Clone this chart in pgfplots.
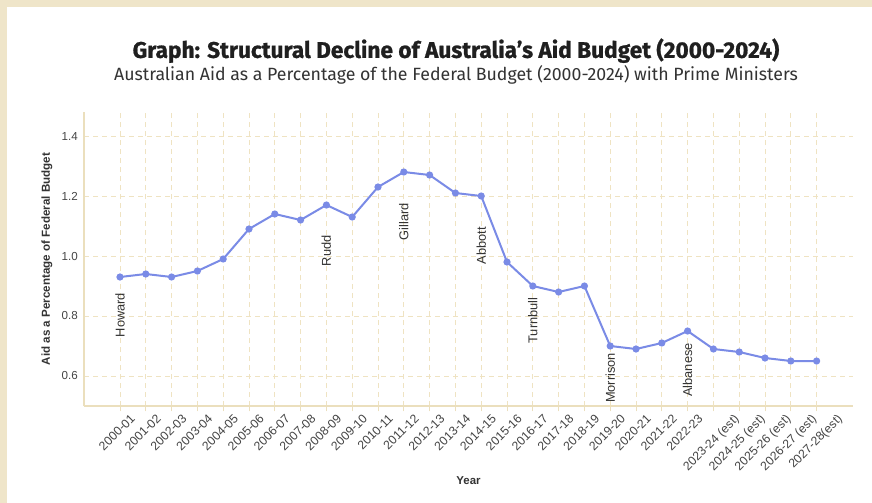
\documentclass[border=0pt]{standalone}
\usepackage{fontspec}
\setmainfont{Liberation Sans}
\newfontfamily\titlefont[BoldFeatures={FakeBold=0.9}]{Fira Sans}
\usepackage{pgfplots}
\pgfplotsset{compat=1.18}
\definecolor{bgbeige}{HTML}{EFE5C9}
\definecolor{gridc}{HTML}{EFE3C2}
\definecolor{axisc}{HTML}{EBDFBD}
\definecolor{linec}{HTML}{7A8BE6}
\definecolor{txt}{HTML}{333333}
\definecolor{ticktxt}{HTML}{444444}
\begin{document}
\begin{tikzpicture}
\fill[bgbeige] (0,0) rectangle (654pt,-377.25pt);
\fill[white] (5.25pt,-5.5pt) rectangle (654pt,-377.25pt);
\path[use as bounding box] (0,0) rectangle (654pt,-377.25pt);
\node[font=\titlefont\bfseries\fontsize{17}{20}\selectfont, text=black!88] at (342pt,-38pt) {Graph: Structural Decline of Australia’s Aid Budget (2000-2024)};
\node[font=\titlefont\fontsize{13.3}{16}\selectfont, text=txt] at (342pt,-56.5pt) {Australian Aid as a Percentage of the Federal Budget (2000-2024) with Prime Ministers};
\begin{axis}[
  at={(63pt,-304.5pt)}, anchor=south west,
  scale only axis, width=576.75pt, height=220.5pt,
  xmin=-1.395, xmax=28.41, ymin=0.5, ymax=1.48,
  axis x line*=bottom, axis y line*=left,
  axis line style={axisc, line width=0.8pt},
  xtick={0,...,22},
  xticklabels={2000-01,2001-02,2002-03,2003-04,2004-05,2005-06,2006-07,2007-08,2008-09,2009-10,2010-11,2011-12,2012-13,2013-14,2014-15,2015-16,2016-17,2017-18,2018-19,2019-20,2020-21,2021-22,2022-23},
  extra x ticks={23,24,25,26,27},
  extra x tick labels={2023-24 (est),2024-25 (est),2025-26 (est),2026-27 (est),2027-28(est)},
  extra x tick style={grid=major, xticklabel style={xshift=5.4pt, yshift=-5.4pt}},
  ytick={0.6,0.8,1.0,1.2,1.4},
  yticklabel style={/pgf/number format/fixed, /pgf/number format/fixed zerofill, /pgf/number format/precision=1},
  /pgf/number format/assume math mode=true,
  grid=major,
  major grid style={gridc, dash pattern=on 3.75pt off 3pt, line width=0.7pt},
  tick align=outside, major tick length=4pt,
  xtick style={axisc, line width=0.7pt},
  ytick style={draw=none},
  tick label style={font=\fontsize{9.2}{11}\selectfont, text=ticktxt},
  xticklabel style={xshift=7.3pt, yshift=-1.25pt, rotate=45, anchor=north east, inner sep=0pt},
  yticklabel style={inner sep=0pt, xshift=-0.5pt, font=\fontsize{8.7}{10}\selectfont},
  xlabel={Year}, ylabel={Aid as a Percentage of Federal Budget},
  every axis x label/.style={at={(axis description cs:0.5,-0.255)}, anchor=center, font=\bfseries\fontsize{8.6}{10}\selectfont, text=txt},
  every axis y label/.style={at={(axis description cs:-0.0481,0.5)}, rotate=90, anchor=center, font=\bfseries\fontsize{8.7}{10}\selectfont, text=txt},
  clip=false,
]
\addplot[linec, line width=1.5pt, mark=*, mark size=1.9pt, mark options={fill=linec, draw=linec}] coordinates {
(0,0.93) (1,0.94) (2,0.93) (3,0.95) (4,0.99) (5,1.09) (6,1.14) (7,1.12) (8,1.17) (9,1.13)
(10,1.23) (11,1.28) (12,1.27) (13,1.21) (14,1.20) (15,0.98) (16,0.90) (17,0.88) (18,0.90) (19,0.70)
(20,0.69) (21,0.71) (22,0.75) (23,0.69) (24,0.68) (25,0.66) (26,0.65) (27,0.65)
};
\begin{scope}[every node/.style={rotate=90, font=\fontsize{9.6}{11}\selectfont, text=txt}]
\node at (axis cs:0,0.803) {Howard};
\node at (axis cs:8,1.017) {Rudd};
\node at (axis cs:11,1.114) {Gillard};
\node at (axis cs:14,1.035) {Abbott};
\node at (axis cs:16,0.785) {Turnbull};
\node at (axis cs:19,0.593) {Morrison};
\node at (axis cs:22,0.62) {Albanese};
\end{scope}
\end{axis}
\end{tikzpicture}
\end{document}
